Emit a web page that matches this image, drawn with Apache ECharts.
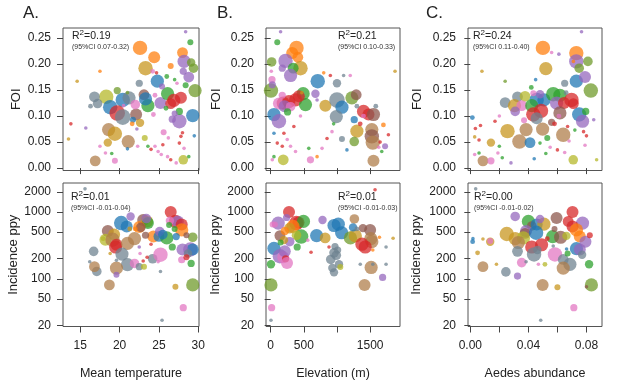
<!DOCTYPE html>
<html>
<head>
<meta charset="utf-8">
<script src="https://cdn.jsdelivr.net/npm/echarts@6/dist/echarts.min.js"></script>
<style>
  html, body { margin: 0; background: #fff; }
  #chart { width: 617px; height: 390px; }
</style>
</head>
<body>
<div id="chart"></div>
<script>
// each point: [x, y, bubble size, colour group]
const foiTemp = [
  [22.6,0.231,12,1],[24.4,0.213,10,1],[23.3,0.192,12,9],[28.0,0.222,9,1],[28.2,0.205,11,4],
  [29.1,0.203,7,11],[29.4,0.192,8,11],[28.8,0.175,9,4],[28.1,0.186,6,4],[24.8,0.167,11,0],
  [22.5,0.163,6,7],[29.6,0.149,11,11],[18.3,0.137,12,8],[16.8,0.137,9,7],[17.2,0.124,8,7],
  [18.8,0.117,12,0],[20.4,0.131,12,0],[21.2,0.135,11,7],[19.7,0.106,13,3],[20.4,0.098,13,7],
  [22.1,0.103,10,5],[23.1,0.141,9,5],[22.0,0.122,8,6],[23.6,0.120,11,2],[23.3,0.133,11,0],
  [19.7,0.149,6,11],[25.2,0.125,10,4],[26.1,0.143,11,2],[26.9,0.130,11,3],[27.8,0.135,10,3],
  [26.5,0.124,9,3],[29.3,0.101,11,0],[27.6,0.090,12,4],[27.6,0.109,6,2],[26.7,0.094,6,4],
  [18.6,0.074,11,10],[19.4,0.066,12,9],[21.1,0.051,11,10],[18.5,0.049,7,9],[16.9,0.014,9,10],
  [28.1,0.016,8,8],[19.4,0.014,5,6],[21.7,0.093,5,0],[22.6,0.087,7,9],[23.2,0.058,5,8],
  [25.6,0.069,5,6],[28.4,0.159,5,2],[29.0,0.242,5,2],[25.4,0.157,5,4],[24.2,0.186,4,6],
  [26.5,0.196,5,1],[28.4,0.262,3,4],[17.5,0.186,3,1],[14.6,0.167,3,9],[13.8,0.085,3,3],
  [13.5,0.056,3,9],[15.7,0.077,3,4],[16.3,0.119,4,7],[17.5,0.042,3,6],[18.2,0.029,3,6],
  [19.0,0.028,3,2],[21.0,0.037,3,0],[22.3,0.042,3,6],[23.6,0.042,3,2],[24.0,0.036,3,3],
  [24.5,0.042,3,6],[24.9,0.032,3,6],[25.3,0.026,3,6],[26.1,0.022,3,6],[26.5,0.016,3,3],
  [27.2,0.010,3,6],[27.6,0.048,3,3],[27.8,0.061,3,3],[28.0,0.068,3,3],[28.2,0.038,3,6],
  [28.8,0.022,3,2],[29.5,0.062,3,0],[25.5,0.045,3,3],[26.2,0.058,3,6],[24.7,0.183,3,3],
  [26.0,0.176,4,2],[27.0,0.170,3,2],[27.3,0.163,3,6],[21.0,0.145,3,11],[21.6,0.085,4,1],
  [22.2,0.075,3,4],[20.5,0.120,3,6],[24.5,0.140,4,6],[25.9,0.115,4,2],[27.0,0.105,5,4],
  [24.3,0.103,4,6]
];
const foiElev = [
  [390,0.231,12,1],[325,0.221,10,1],[410,0.213,9,1],[450,0.192,12,9],[225,0.206,12,4],
  [340,0.192,9,2],[15,0.204,8,11],[300,0.178,11,4],[175,0.192,6,4],[710,0.167,12,0],
  [1000,0.163,7,7],[5,0.149,12,11],[490,0.143,11,2],[190,0.125,11,3],[125,0.124,10,6],
  [275,0.128,11,3],[375,0.131,11,3],[210,0.119,10,4],[525,0.122,11,2],[425,0.138,10,3],
  [300,0.118,8,6],[50,0.103,11,0],[125,0.090,12,4],[825,0.120,10,9],[1000,0.131,13,7],
  [1075,0.117,11,0],[990,0.099,11,7],[1225,0.135,11,11],[1290,0.141,9,5],[1400,0.109,11,3],
  [1475,0.103,10,3],[1550,0.103,11,5],[1300,0.071,11,9],[1525,0.074,11,10],[1525,0.061,12,5],
  [1540,0.049,12,10],[1550,0.014,10,10],[1260,0.051,8,11],[190,0.016,9,8],[600,0.016,6,6],
  [675,0.143,7,4],[1260,0.093,6,0],[1075,0.056,5,7],[100,0.242,5,2],[255,0.108,6,2],
  [175,0.140,6,6],[20,0.170,6,6],[25,0.160,6,4],[150,0.262,3,4],[10,0.186,3,6],
  [1875,0.186,3,9],[800,0.183,3,1],[900,0.178,3,3],[1100,0.178,3,7],[1200,0.178,3,6],
  [700,0.131,3,4],[1300,0.119,4,7],[1585,0.119,4,7],[1700,0.083,4,1],[1725,0.042,5,4],
  [1775,0.064,3,3],[1675,0.032,3,2],[1630,0.040,3,6],[50,0.067,3,0],[200,0.067,3,3],
  [100,0.048,3,3],[175,0.042,3,3],[300,0.042,3,6],[375,0.032,3,6],[575,0.038,3,2],
  [700,0.022,3,1],[775,0.038,3,6],[850,0.057,3,3],[925,0.070,3,6],[950,0.085,3,2],
  [25,0.016,3,6],[50,0.022,3,2],[1150,0.035,3,0],[1650,0.050,3,3],[1400,0.100,4,6],
  [1350,0.085,4,3],[350,0.080,3,3],[250,0.055,3,6],[450,0.100,3,6],[470,0.145,3,9]
];
const foiAedes = [
  [0.050,0.231,12,1],[0.073,0.221,12,1],[0.052,0.191,11,9],[0.073,0.205,12,4],[0.081,0.205,8,11],
  [0.075,0.192,8,11],[0.073,0.167,11,0],[0.079,0.175,10,4],[0.083,0.149,12,11],[0.065,0.163,6,7],
  [0.024,0.126,9,7],[0.0325,0.137,9,7],[0.0377,0.138,9,8],[0.0304,0.120,11,9],[0.0354,0.120,9,6],
  [0.0309,0.109,8,4],[0.0457,0.131,12,0],[0.0507,0.131,11,0],[0.0423,0.120,11,2],[0.0434,0.103,12,3],
  [0.0487,0.110,12,3],[0.0457,0.096,10,7],[0.0571,0.142,12,2],[0.0617,0.140,11,2],[0.0594,0.125,11,4],
  [0.0645,0.125,10,3],[0.0697,0.131,12,3],[0.0710,0.124,9,3],[0.048,0.142,7,4],[0.0434,0.144,5,6],
  [0.0617,0.106,11,5],[0.075,0.103,12,0],[0.0773,0.090,11,4],[0.0795,0.109,6,2],[0.0256,0.071,12,9],
  [0.0384,0.074,11,10],[0.0498,0.075,11,10],[0.0338,0.051,12,10],[0.0411,0.049,9,0],[0.064,0.064,12,10],
  [0.0142,0.049,7,9],[0.0087,0.014,9,10],[0.0142,0.014,6,6],[0.0709,0.016,8,8],[0.0014,0.097,4,0],
  [0.056,0.088,6,5],[0.037,0.092,5,6],[0.053,0.058,5,2],[0.008,0.186,3,9],[0.024,0.167,3,11],
  [0.0766,0.262,3,4],[0.0035,0.076,3,3],[0.007,0.082,3,3],[0.003,0.060,3,9],[0.006,0.054,3,3],
  [0.003,0.026,3,6],[0.006,0.029,3,2],[0.020,0.042,3,2],[0.019,0.029,3,6],[0.022,0.020,3,2],
  [0.028,0.010,3,4],[0.056,0.222,3,6],[0.061,0.219,3,4],[0.071,0.205,3,1],[0.066,0.145,4,7],
  [0.048,0.048,3,2],[0.055,0.040,3,6],[0.060,0.035,3,3],[0.065,0.030,3,6],[0.080,0.062,3,3],
  [0.078,0.070,3,3],[0.068,0.052,3,6],[0.087,0.016,3,8],[0.085,0.093,3,4],[0.020,0.100,3,6],
  [0.017,0.090,3,3],[0.042,0.155,4,2],[0.045,0.170,3,0],[0.058,0.085,4,3],[0.061,0.100,4,6],
  [0.067,0.080,3,3],[0.072,0.073,3,2],[0.079,0.044,3,6],[0.052,0.028,3,2],[0.044,0.018,3,0]
];
const incTemp = [
  [26.5,1000,10,3],[27.1,725,11,3],[27.4,725,10,4],[27.9,650,10,3],[27.9,540,11,1],
  [26.4,740,7,6],[20.2,685,12,0],[20.9,610,10,0],[23.0,760,10,5],[23.5,720,10,9],
  [23.6,685,10,2],[23.4,800,8,4],[22.5,600,10,1],[22.7,590,8,5],[21.4,860,7,4],
  [18.5,520,10,5],[19.3,460,10,9],[18.2,385,10,8],[19.1,385,12,10],[19.6,324,10,3],
  [19.5,300,11,3],[21.0,340,11,10],[21.9,400,11,10],[20.3,235,11,7],[21.0,163,11,7],
  [16.7,258,8,7],[17.1,129,8,7],[16.8,152,9,10],[19.6,145,11,10],[18.7,81,9,10],
  [21.9,170,8,6],[22.5,152,6,7],[23.1,152,5,8],[24.2,200,8,7],[24.3,432,10,1],
  [25.0,432,9,0],[26.0,410,11,2],[25.1,510,8,4],[25.5,460,8,0],[25.2,230,12,6],
  [29.3,420,8,11],[29.0,275,12,4],[29.3,275,10,0],[28.0,275,10,4],[28.7,240,7,7],
  [29.1,170,6,2],[29.3,81,11,11],[27.9,193,6,6],[26.7,300,6,2],[27.1,76,5,9],
  [28.1,37,6,6],[25.4,24,3,7],[25.2,129,3,7],[19.6,115,5,4],[15.6,2230,3,7],
  [23.3,450,6,5],[27.2,430,6,0],[23.5,210,3,3],[23.0,185,3,3],[22.6,240,3,6],
  [16.2,180,3,7],[18.8,240,3,9],[19.6,190,3,7],[17.9,400,4,8],[22.5,300,3,4],
  [24.9,180,3,6],[28.5,210,5,3],[24.0,330,3,3],[22.0,560,4,1],[21.3,560,4,9],
  [26.3,640,5,2],[28.5,450,5,5],[27.0,560,5,2]
];
const incElev = [
  [277,1000,10,3],[114,685,11,4],[65,650,5,6],[240,830,6,4],[386,685,12,3],
  [420,700,10,3],[495,725,11,2],[337,610,11,1],[287,575,9,9],[139,445,9,5],
  [215,520,7,1],[460,430,12,2],[390,450,8,8],[50,286,11,0],[5,165,7,2],
  [5,81,11,11],[15,37,6,6],[5,24,3,7],[139,218,12,4],[190,210,10,6],
  [213,260,10,4],[225,200,6,3],[247,172,10,6],[400,300,6,2],[287,360,8,4],
  [200,380,7,9],[693,445,11,0],[822,410,9,9],[782,760,7,4],[955,630,11,0],
  [1020,660,11,0],[1070,490,11,0],[906,195,8,7],[955,245,8,7],[990,225,8,7],
  [930,145,7,7],[955,125,7,7],[970,305,6,7],[1030,165,7,7],[1050,150,5,8],
  [1010,270,6,7],[1203,410,11,11],[1277,440,11,9],[1262,790,8,10],[1242,590,7,0],
  [1391,575,7,5],[1500,540,10,5],[1510,400,11,10],[1525,360,11,10],[1376,330,11,3],
  [1426,300,11,3],[1515,148,11,10],[1416,81,10,10],[1688,105,6,4],[1574,2160,3,3],
  [1846,405,3,9],[1640,420,3,1],[1740,300,3,7],[1540,270,3,1],[1351,165,3,7],
  [1540,165,3,7],[1740,165,3,7],[609,250,3,3],[560,380,3,6],[880,300,3,3],
  [1300,560,4,7],[30,650,5,6],[150,350,5,2]
];
const incAedes = [
  [0.0704,1000,10,3],[0.0309,860,8,4],[0.040,725,11,2],[0.0423,620,8,5],[0.0457,650,10,0],
  [0.0507,660,11,9],[0.0594,815,10,5],[0.048,790,7,4],[0.0674,725,9,3],[0.0773,685,11,4],
  [0.0704,610,10,3],[0.0731,540,11,1],[0.0251,470,12,9],[0.0384,520,10,4],[0.0377,480,9,5],
  [0.0453,490,12,0],[0.0309,400,11,9],[0.0366,410,11,8],[0.0331,350,11,10],[0.0567,430,11,2],
  [0.0622,420,11,5],[0.0662,440,7,8],[0.0754,430,10,1],[0.0423,300,11,3],[0.0491,324,11,3],
  [0.0325,258,9,7],[0.0439,232,12,7],[0.0462,270,7,7],[0.0583,232,12,6],[0.0731,283,11,0],
  [0.0754,275,10,4],[0.0793,360,10,4],[0.0770,230,7,7],[0.064,195,9,7],[0.0686,165,11,7],
  [0.064,145,11,10],[0.0354,175,8,6],[0.0245,127,8,7],[0.0325,110,6,4],[0.0087,152,9,10],
  [0.0498,81,10,10],[0.0834,81,11,11],[0.0818,165,7,2],[0.0713,37,6,6],[0.0485,24,3,7],
  [0.0137,360,7,9],[0.0137,370,5,6],[0.0016,360,4,0],[0.0018,400,3,0],[0.005,245,4,9],
  [0.0087,395,3,9],[0.018,165,3,9],[0.0037,2230,3,7],[0.06,75,5,9],[0.080,76,3,5],
  [0.0469,165,3,6],[0.0514,165,4,8],[0.0384,180,3,7],[0.0571,310,3,7],[0.0663,280,3,0],
  [0.0823,450,5,3],[0.0670,240,5,2],[0.0530,400,4,3],[0.0580,560,5,5]
];

const palette = ['#1f77b4', '#ff7f0e', '#2ca02c', '#d62728', '#9467bd', '#8c564b',
  '#e377c2', '#6f8391', '#b5b828', '#c8961e', '#b07d4a', '#6e9a2a'];

const foiTicks = [0, 0.05, 0.1, 0.15, 0.2, 0.25];
const incTicks = [20, 50, 100, 200, 500, 1000, 2000];
const tempTicks = [15, 20, 25, 30];
const elevTicks = [0, 500, 1000, 1500];
const elevLabels = [0, 500, 1500];
const aedesTicks = [0, 0.02, 0.04, 0.06, 0.08];
const aedesLabels = [0, 0.04, 0.08];
const xNames = ['Mean temperature', 'Elevation (m)', 'Aedes abundance'];
const letters = ['A.', 'B.', 'C.'];
const r2Values = ['0.19', '0.21', '0.24', '0.01', '0.01', '0.00'];
const ciValues = ['(95%CI 0.07-0.32)', '(95%CI 0.10-0.33)', '(95%CI 0.11-0.40)',
  '(95%CI -0.01-0.04)', '(95%CI -0.01-0.03)', '(95%CI -0.01-0.02)'];

const FONT = '"Liberation Sans", Arial, sans-serif';
const chart = echarts.init(document.getElementById('chart'));

const cols = [
  { left: 63, width: 136, min: 12.8, max: 30.1, ticks: tempTicks, labels: tempTicks, fmt: v => String(v) },
  { left: 266, width: 134, min: -70, max: 1950, ticks: elevTicks, labels: elevLabels, fmt: v => String(v) },
  { left: 468, width: 134, min: -0.0016, max: 0.0907, ticks: aedesTicks, labels: aedesLabels, fmt: v => v.toFixed(2) }
];
const rows = [
  { top: 28, height: 142.5, data: [foiTemp, foiElev, foiAedes] },
  { top: 183, height: 143.5, data: [incTemp, incElev, incAedes] }
];
const yGaps = [[40, 43, 44], [42, 44, 45]];
const r2Left = [[72, 338, 473], [71, 338, 474]];
const r2Top = [29, 190];

const grid = [], xAxis = [], yAxis = [], series = [], graphic = [];
rows.forEach((row, r) => {
  cols.forEach((col, c) => {
    const i = grid.length;
    grid.push({
      left: col.left, top: row.top, width: col.width, height: row.height,
      show: true, borderColor: '#555', borderWidth: 1, backgroundColor: 'transparent'
    });
    xAxis.push({
      type: 'value', gridIndex: i, min: col.min, max: col.max,
      name: r === 1 ? xNames[c] : '', nameLocation: 'middle', nameGap: 41,
      nameTextStyle: { fontFamily: FONT, fontSize: 12.5, color: '#222' },
      axisLine: { show: false },
      axisTick: { show: true, length: 6, customValues: col.ticks, lineStyle: { color: '#444' } },
      axisLabel: {
        show: r === 1, customValues: col.labels, margin: 13, formatter: col.fmt,
        fontFamily: FONT, fontSize: 12, color: '#222'
      },
      splitLine: { show: false }
    });
    const isLog = r === 1;
    yAxis.push({
      type: 'value', gridIndex: i,
      min: isLog ? Math.log10(19.3) : -0.0046,
      max: isLog ? Math.log10(2729) : 0.2692,
      name: isLog ? 'Incidence ppy' : 'FOI', nameLocation: 'middle', nameGap: yGaps[r][c],
      nameTextStyle: { fontFamily: FONT, fontSize: 13, color: '#222' },
      axisLine: { show: false },
      axisTick: {
        show: true, length: 6, lineStyle: { color: '#444' },
        customValues: isLog ? incTicks.map(Math.log10) : foiTicks
      },
      axisLabel: {
        customValues: isLog ? incTicks.map(Math.log10) : foiTicks, margin: 12,
        formatter: isLog ? v => String(Math.round(Math.pow(10, v))) : v => v.toFixed(2),
        fontFamily: FONT, fontSize: 12, color: '#222'
      },
      splitLine: { show: false }
    });
    series.push({
      type: 'scatter', xAxisIndex: i, yAxisIndex: i,
      data: row.data[c].map(p => ({
        value: [p[0], isLog ? Math.log10(p[1]) : p[1]],
        symbolSize: p[2] * 1.2,
        itemStyle: { color: palette[p[3]] }
      })),
      itemStyle: { opacity: 0.74 },
      silent: true
    });
    graphic.push({
      type: 'text', left: r2Left[r][c], top: r2Top[r],
      style: {
        text: '{a|R}{s|2}{a|=' + r2Values[i] + '}',
        rich: {
          a: { fontFamily: FONT, fontSize: 10.5, fill: '#222', verticalAlign: 'bottom' },
          s: { fontFamily: FONT, fontSize: 8, fill: '#222', verticalAlign: 'bottom', padding: [0, 0, 5, 0] }
        }
      }
    });
    graphic.push({
      type: 'text', left: r2Left[r][c], top: r2Top[r] + 15,
      style: { text: ciValues[i], fontFamily: FONT, fontSize: 7, fill: '#333' }
    });
  });
});

const letterLeft = [23, 217, 426];
letters.forEach((t, c) => {
  graphic.push({
    type: 'text', left: letterLeft[c], top: 5,
    style: { text: t, fontFamily: FONT, fontSize: 17, fill: '#222' }
  });
});

chart.setOption({
  animation: false,
  backgroundColor: '#fff',
  grid, xAxis, yAxis, series, graphic
});
</script>
</body>
</html>
